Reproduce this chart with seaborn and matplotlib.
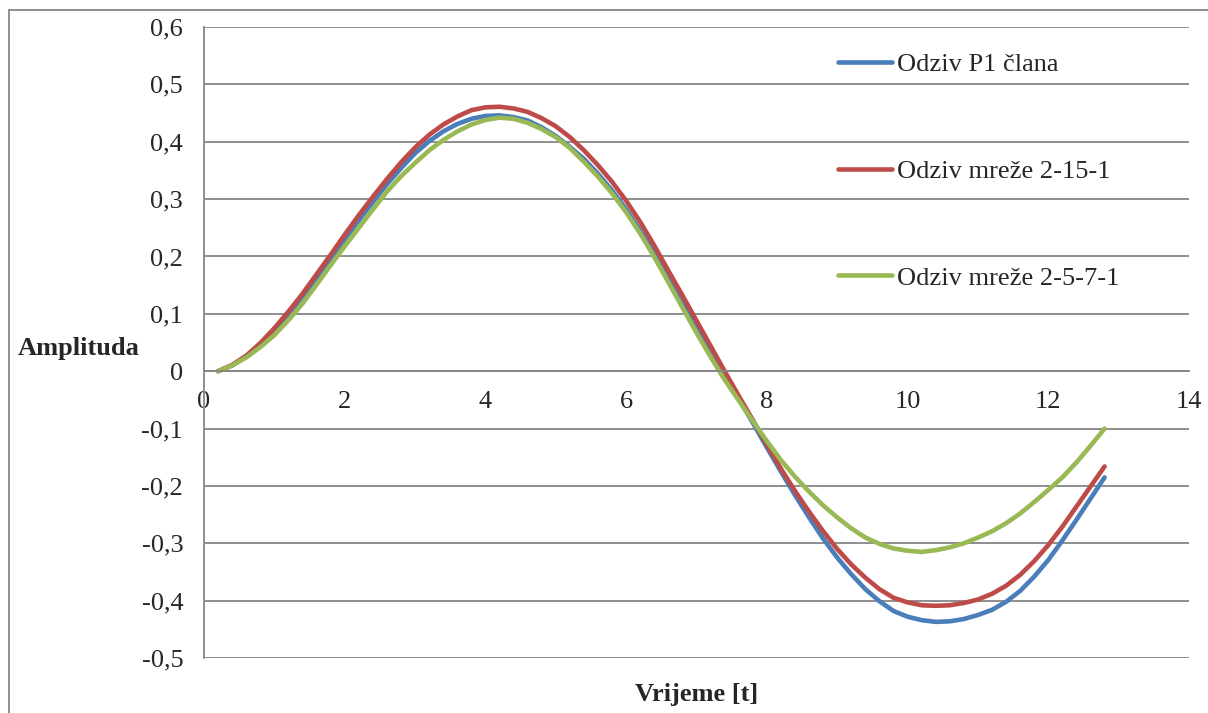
import matplotlib
matplotlib.use("Agg")
from matplotlib import pyplot as plt
from matplotlib.patches import Rectangle
import seaborn as sns
import pandas as pd

# values (t step 0.2)
t = [0.2, 0.4, 0.6, 0.8, 1.0, 1.2, 1.4, 1.6, 1.8, 2.0, 2.2, 2.4, 2.6, 2.8, 3.0, 3.2, 3.4,
     3.6, 3.8, 4.0, 4.2, 4.4, 4.6, 4.8, 5.0, 5.2, 5.4, 5.6, 5.8, 6.0, 6.2, 6.4, 6.6, 6.8,
     7.0, 7.2, 7.4, 7.6, 7.8, 8.0, 8.2, 8.4, 8.6, 8.8, 9.0, 9.2, 9.4, 9.6, 9.8, 10.0, 10.2,
     10.4, 10.6, 10.8, 11.0, 11.2, 11.4, 11.6, 11.8, 12.0, 12.2, 12.4, 12.6, 12.8]

odziv_p1 = [0.0, 0.010, 0.026, 0.047, 0.072, 0.100, 0.130, 0.163, 0.196, 0.230, 0.263, 0.295,
            0.326, 0.354, 0.380, 0.401, 0.418, 0.431, 0.440, 0.445, 0.446, 0.443, 0.437, 0.425,
            0.410, 0.391, 0.370, 0.344, 0.315, 0.282, 0.245, 0.206, 0.165, 0.123, 0.080, 0.037,
            -0.005, -0.048, -0.090, -0.133, -0.175, -0.216, -0.255, -0.292, -0.325, -0.354,
            -0.380, -0.401, -0.418, -0.428, -0.434, -0.437, -0.436, -0.432, -0.425, -0.416,
            -0.402, -0.383, -0.358, -0.329, -0.295, -0.259, -0.222, -0.185]

odziv_2_15_1 = [0.0, 0.011, 0.027, 0.049, 0.075, 0.104, 0.135, 0.169, 0.203, 0.238, 0.272, 0.304,
                0.335, 0.364, 0.390, 0.412, 0.430, 0.444, 0.455, 0.460, 0.461, 0.458, 0.452,
                0.441, 0.427, 0.408, 0.385, 0.359, 0.330, 0.297, 0.260, 0.219, 0.175, 0.132,
                0.088, 0.044, 0.000, -0.043, -0.085, -0.128, -0.170, -0.209, -0.245, -0.279,
                -0.310, -0.337, -0.360, -0.380, -0.395, -0.403, -0.408, -0.409, -0.408, -0.404,
                -0.398, -0.388, -0.374, -0.355, -0.331, -0.303, -0.271, -0.236, -0.201, -0.166]

odziv_2_5_7_1 = [0.0, 0.010, 0.024, 0.042, 0.063, 0.089, 0.118, 0.151, 0.185, 0.218, 0.250, 0.282,
                 0.313, 0.340, 0.363, 0.385, 0.403, 0.418, 0.430, 0.438, 0.442, 0.440, 0.433,
                 0.422, 0.408, 0.389, 0.365, 0.339, 0.310, 0.277, 0.240, 0.199, 0.155, 0.111,
                 0.067, 0.025, -0.015, -0.051, -0.087, -0.122, -0.155, -0.184, -0.210, -0.234,
                 -0.255, -0.274, -0.290, -0.301, -0.309, -0.313, -0.315, -0.312, -0.307, -0.300,
                 -0.290, -0.279, -0.265, -0.248, -0.228, -0.207, -0.185, -0.159, -0.130, -0.100]

labels = ['Odziv P1 člana', 'Odziv mreže 2-15-1', 'Odziv mreže 2-5-7-1']
colors = ['#4a7ebb', '#be4b48', '#98b954']

y_ticks = [-0.5, -0.4, -0.3, -0.2, -0.1, 0, 0.1, 0.2, 0.3, 0.4, 0.5, 0.6]
y_ticklabels = ['-0,5', '-0,4', '-0,3', '-0,2', '-0,1', '0', '0,1', '0,2', '0,3', '0,4', '0,5', '0,6']
x_ticks = [0, 2, 4, 6, 8, 10, 12, 14]

frames = []
for lab, vals in zip(labels, [odziv_p1, odziv_2_15_1, odziv_2_5_7_1]):
    frames.append(pd.DataFrame({'t': t, 'amp': vals, 'serija': lab}))
data = pd.concat(frames, ignore_index=True)

sns.set_style("white")
plt.rcParams['font.family'] = ['Liberation Serif', 'DejaVu Serif']
plt.rcParams['font.size'] = 19

grey = '#868686'

fig = plt.figure(figsize=(12.08, 7.13), dpi=100)
ax = fig.add_axes([0.1689, 0.0771, 0.8154, 0.885])

sns.lineplot(data=data, x='t', y='amp', hue='serija', palette=colors, hue_order=labels,
             sort=False, linewidth=3.3, ax=ax, legend=False)
for ln in ax.lines:
    ln.set_solid_joinstyle('round')
    ln.set_solid_capstyle('round')

ax.set_xlim(0, 14)
ax.set_ylim(-0.5, 0.6)
ax.set_yticks(y_ticks)
ax.set_yticklabels(y_ticklabels)
ax.set_xticks(x_ticks)
ax.set_xticklabels([str(v) for v in x_ticks])

ax.yaxis.grid(True, color=grey, linewidth=1.3)
ax.xaxis.grid(False)
ax.set_axisbelow(True)

for s in ['top', 'right']:
    ax.spines[s].set_visible(False)
ax.spines['left'].set_color(grey)
ax.spines['left'].set_linewidth(1.3)
ax.spines['bottom'].set_position(('data', 0))
ax.spines['bottom'].set_color(grey)
ax.spines['bottom'].set_linewidth(1.3)

ax.tick_params(axis='y', direction='out', length=5, width=1.3, color=grey, pad=10, labelsize=19)
ax.tick_params(axis='x', direction='out', length=5, width=1.3, color=grey, pad=9, labelsize=19)

ax.set_xlabel('Vrijeme [t]', fontweight='bold', fontsize=19)
ax.xaxis.set_label_coords(0.5, -0.039)
ax.set_ylabel('Amplituda', fontweight='bold', fontsize=19, rotation=0, ha='left', va='center')
ax.yaxis.set_label_coords(-0.189, 0.49)

handles = [plt.Line2D([], [], color=c, linewidth=3.3, solid_capstyle='round') for c in colors]
ax.legend(handles, labels, loc='upper left', bbox_to_anchor=(0.6437, 0.959), frameon=False,
          fontsize=19, handlelength=2.05, handletextpad=0.2, labelspacing=3.15,
          borderpad=0, borderaxespad=0)

# outer chart border
fig.patches.append(Rectangle((0.0075, -0.05), 1.2, 0.986 + 0.05, transform=fig.transFigure,
                             fill=False, edgecolor=grey, linewidth=1.3))

fig.savefig('out.png', dpi=100)
